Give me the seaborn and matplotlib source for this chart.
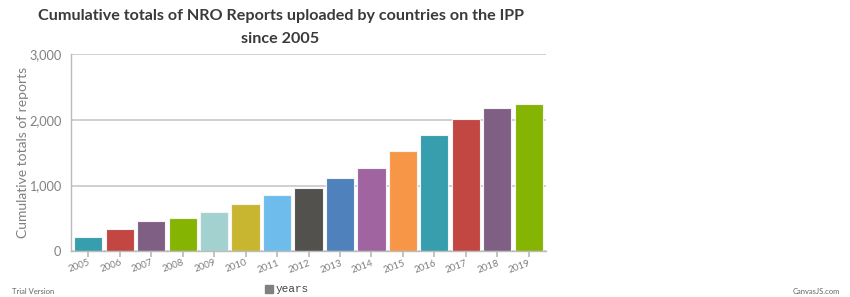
import matplotlib
matplotlib.use("Agg")
import matplotlib.pyplot as plt
import matplotlib.patches as mpatches
import seaborn as sns
import pandas as pd

# Data
years = ["2005", "2006", "2007", "2008", "2009", "2010", "2011", "2012",
         "2013", "2014", "2015", "2016", "2017", "2018", "2019"]
reports = [215, 335, 462, 502, 595, 724, 861, 964,
           1114, 1271, 1525, 1773, 2007, 2174, 2235]
colors = ["#369EAD", "#C24642", "#7F6084", "#86B402", "#A2D1CF", "#C8B631",
          "#6DBCEB", "#52514E", "#4F81BC", "#A064A1", "#F79647", "#369EAD",
          "#C24642", "#7F6084", "#86B402"]

df = pd.DataFrame({"year": years, "reports": reports})

sns.set_theme(style="white")
plt.rcParams["font.family"] = ["Lato", "DejaVu Sans"]

fig = plt.figure(figsize=(8.5, 2.97), dpi=100)
ax = fig.add_axes([71 / 850, 0.154, 475 / 850, 0.664])

sns.barplot(data=df, x="year", y="reports", hue="year", palette=colors,
            width=0.9, edgecolor="#f4f4f4", linewidth=0.8, legend=False,
            saturation=1, ax=ax)

ax.set_ylim(0, 3000)
ax.set_xlim(-0.55, len(years) - 0.45)
ax.set_yticks([0, 1000, 2000, 3000])
ax.set_yticklabels(["0", "1,000", "2,000", "3,000"])
ax.yaxis.grid(True, color="#c8c8c8", linewidth=1.2)
ax.set_axisbelow(True)
for s in ["top", "right"]:
    ax.spines[s].set_visible(False)
for s in ["left", "bottom"]:
    ax.spines[s].set_color("#bbbbbb")
    ax.spines[s].set_linewidth(1.0)

ax.tick_params(axis="y", length=4, color="#bbbbbb", labelsize=9.2,
               labelcolor="#808080", pad=3)
ax.tick_params(axis="x", length=4, color="#bbbbbb", labelsize=7,
               labelcolor="#808080", pad=1, bottom=True, left=True)
plt.setp(ax.get_xticklabels(), rotation=20, ha="right", rotation_mode="anchor")

ax.set_xlabel("")
ax.set_ylabel("Cumulative totals of reports", fontsize=10, color="#808080")
ax.yaxis.set_label_coords(-0.088, 0.5)

fig.text(0.33, 0.97, "Cumulative totals of NRO Reports uploaded by countries on the IPP\nsince 2005",
         ha="center", va="top", fontsize=11.6, fontweight="bold",
         color="#3a3a3a", linespacing=1.85)

# legend
fig.patches.append(mpatches.Rectangle((265 / 850, 1 - 293 / 297), 8 / 850, 8 / 297,
                                      transform=fig.transFigure, color="#808080"))
fig.text(276 / 850, 1 - 289 / 297, "years", family=["Liberation Mono"],
         fontsize=8, color="#444444", va="center", ha="left")

fig.text(12 / 850, 1 - 292 / 297, "Trial Version", fontsize=5.5,
         color="#666666", va="center")
fig.text(840 / 850, 1 - 292 / 297, "CanvasJS.com", fontsize=5.5,
         color="#666666", va="center", ha="right")

fig.savefig("out.png", dpi=100, facecolor="white")
